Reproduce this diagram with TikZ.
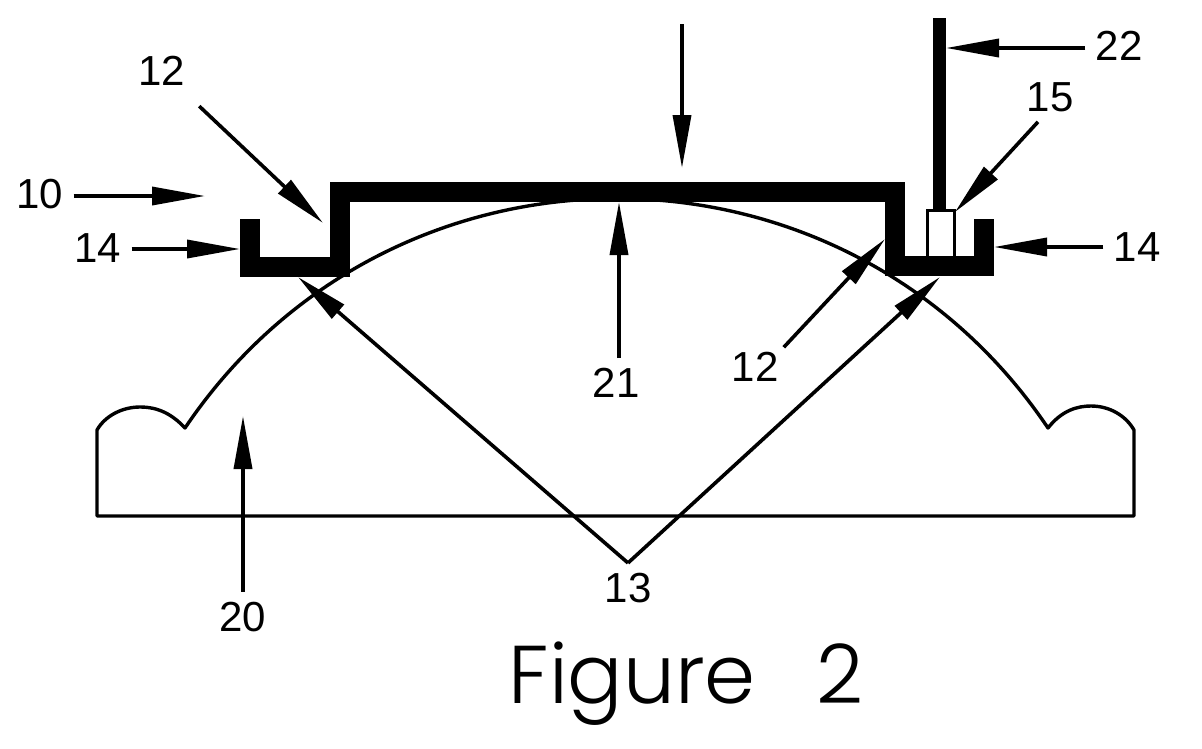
\documentclass[tikz,border=0pt]{standalone}
\usepackage{fontspec}
\setmainfont{Liberation Sans}
\newfontfamily\figfont[WordSpace=2.7]{Poppins Light}
\usepackage{tikz}
\usetikzlibrary{arrows.meta}

\tikzset{
	numlabel/.style={inner sep=10pt,font=\fontsize{42}{42}\selectfont},
	callout/.style={line width=3.6pt,-{Triangle[length=53pt,width=18pt]}},
	channel/.style={line width=20pt,line join=miter,line cap=butt},
	outline/.style={line width=3.4pt,line join=round},
}

\begin{document}
\begin{tikzpicture}[x=1pt,y=-1pt]
	\useasboundingbox (0,0) rectangle (1202,748);
	
	% lens
	\coordinate (valleyL) at (185,428);
	\coordinate (valleyR) at (1048,428);
	\draw[outline] (valleyL) .. controls (391,122) and (842,122) .. (valleyR)
		.. controls (1062,410) and (1078,406) .. (1091,406)
		.. controls (1110,406) and (1126,416) .. (1134,430)
		-- (1134,516) -- (97,516) -- (97,430)
		.. controls (105,416) and (122,407) .. (140,407)
		.. controls (158,407) and (172,414) .. cycle;
	
	% post and lead
	\coordinate (leadtop) at (939.5,18);
	\node[draw,line width=3pt,minimum width=27pt,minimum height=48pt,inner sep=0pt,fill=white] (post) at (941,234.5) {};
	\draw[line width=13pt] (leadtop) -- (leadtop |- post.north);
	
	% housing
	\draw[channel] (250,219) -- (250,267) -- (340,267) -- (340,192) -- (895,192) -- (895,266) -- (984,266) -- (984,219);
	
	% labels
	\node[numlabel] (n10) at (40,194) {10};
	\node[numlabel] (n12a) at (162,71) {12};
	\node[numlabel] (n14a) at (98,248) {14};
	\node[numlabel] (n14b) at (1137,247) {14};
	\node[numlabel] (n22) at (1119,46) {22};
	\node[numlabel] (n15) at (1050,97) {15};
	\node[numlabel] (n21) at (616,383) {21};
	\node[numlabel] (n12b) at (755,367) {12};
	\node[numlabel] (n13) at (628,588) {13};
	\node[numlabel] (n20) at (243,617) {20};
	\node (caption) at (686,684) {\fontsize{82}{82}\figfont Figure 2};
	
	% arrow ends
	\coordinate (top) at (682,24);
	\coordinate (tdown) at (682,168);
	\coordinate (t10) at (205,196);
	\coordinate (t12a) at (323,223);
	\coordinate (t14a) at (240,249);
	\coordinate (t14b) at (994,247);
	\coordinate (t22) at (946,48);
	\coordinate (t15) at (955,212);
	\coordinate (t21) at (619,202);
	\coordinate (t12b) at (885,239);
	\coordinate (t13a) at (298,277);
	\coordinate (t13b) at (940,277);
	\coordinate (t20) at (243,416);
	
	\draw[callout] (n10.east |- t10) -- (t10);
	\draw[callout,shorten <=15pt] (n12a) -- (t12a);
	\draw[callout] (n14a.east |- t14a) -- (t14a);
	\draw[callout] (n14b) -- (t14b);
	\draw[callout] (n22.west |- t22) -- (t22);
	\draw[callout] ([xshift=-12pt]n15.south) -- (t15);
	\draw[callout] (n21.north -| t21) -- (t21);
	\draw[callout,shorten <=-7pt] (n12b.north east) -- (t12b);
	\draw[callout] (n13.north) -- (t13a);
	\draw[callout] (n13.north) -- (t13b);
	\draw[callout] (n20) -- (t20);
	\draw[callout] (top) -- (tdown);
\end{tikzpicture}
\end{document}
